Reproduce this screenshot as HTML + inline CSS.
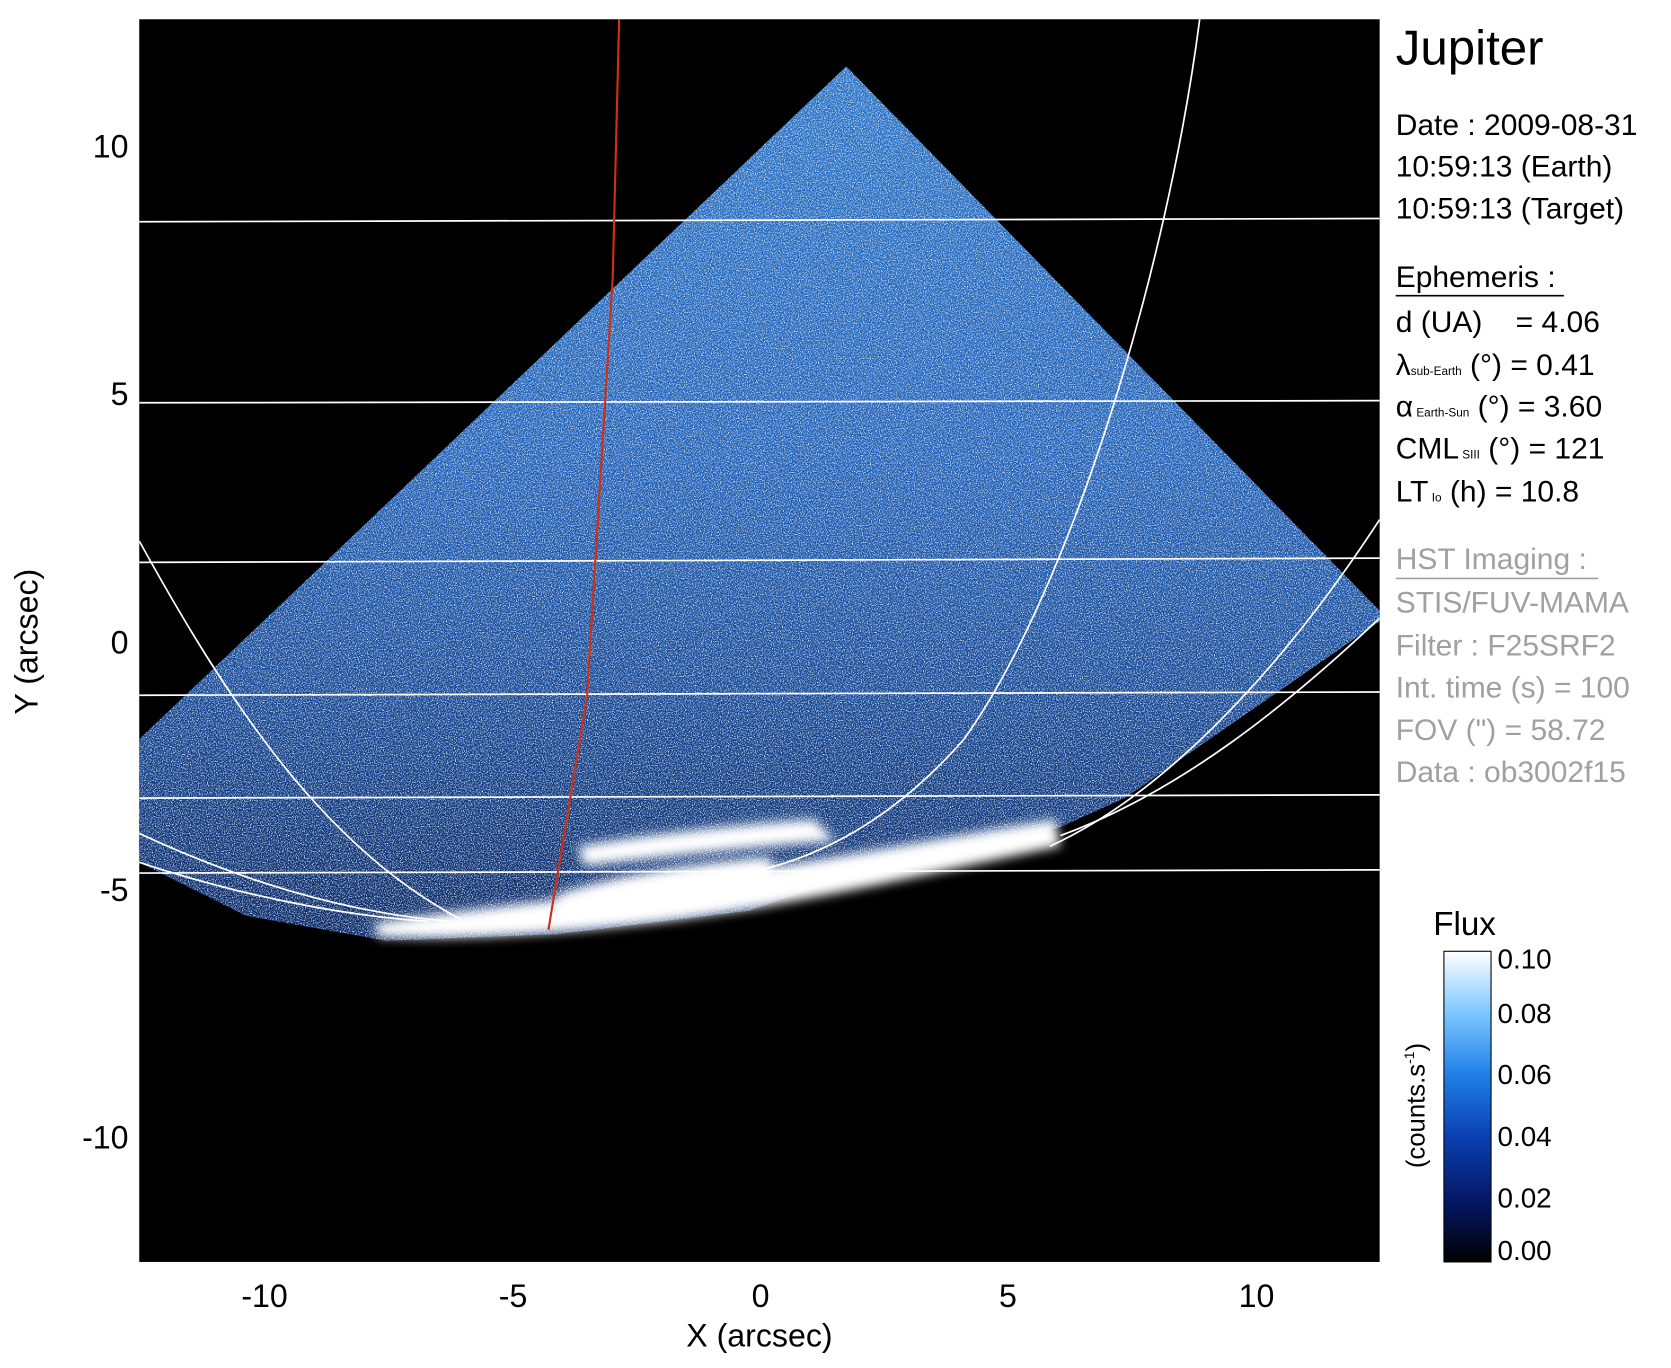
<!DOCTYPE html>
<html><head><meta charset="utf-8"><style>
html,body{margin:0;padding:0;background:#fff;}
svg{display:block;}
text{font-family:"Liberation Sans",sans-serif;}
</style></head><body>
<svg width="1671" height="1368" viewBox="0 0 1560 1277" preserveAspectRatio="none" xmlns="http://www.w3.org/2000/svg">
<defs>
<filter id="noise" x="0" y="0" width="100%" height="100%">
<feTurbulence type="fractalNoise" baseFrequency="0.95" numOctaves="2" seed="3" result="n"/>
<feColorMatrix in="n" type="matrix" values="0 0 0 0 0.8  0 0 0 0 0.9  0 0 0 0 1  0 0 0 3.5 -1.65" result="c"/>
<feComposite in="c" in2="SourceGraphic" operator="in"/>
</filter>
<filter id="noise2" x="0" y="0" width="100%" height="100%">
<feTurbulence type="fractalNoise" baseFrequency="0.9" numOctaves="2" seed="11" result="n"/>
<feColorMatrix in="n" type="matrix" values="0 0 0 0 0  0 0 0 0 0.05  0 0 0 0 0.2  0 0 0 -3.5 1.6" result="c"/>
<feComposite in="c" in2="SourceGraphic" operator="in"/>
</filter>
<linearGradient id="wg" x1="0" y1="0" x2="0" y2="1">
<stop offset="0" stop-color="#2f78cc"/>
<stop offset="0.45" stop-color="#2664bc"/>
<stop offset="0.72" stop-color="#184896"/>
<stop offset="1" stop-color="#0a2460"/>
</linearGradient>
<linearGradient id="cb" x1="0" y1="0" x2="0" y2="1">
<stop offset="0" stop-color="#ffffff"/>
<stop offset="0.2" stop-color="#7cc6ff"/>
<stop offset="0.4" stop-color="#1e7fe6"/>
<stop offset="0.6" stop-color="#0a3fb0"/>
<stop offset="0.8" stop-color="#041868"/>
<stop offset="1" stop-color="#000000"/>
</linearGradient>
<filter id="blur"><feGaussianBlur stdDeviation="5"/></filter>
<clipPath id="pc"><rect x="130" y="18" width="1158" height="1160"/></clipPath>
</defs>
<rect x="130" y="18" width="1158" height="1160" fill="#000"/>
<g clip-path="url(#pc)">
<path d="M790,62 L1288,570 L1288,580 L1050,745 L990,772 L800,815 L700,850 L520,872 L360,878 L230,855 L130,805 L130,690 Z" fill="url(#wg)"/>
<path d="M790,62 L1288,570 L1288,580 L1050,745 L990,772 L800,815 L700,850 L520,872 L360,878 L230,855 L130,805 L130,690 Z" fill="#fff" filter="url(#noise)"/>
<path d="M790,62 L1288,570 L1288,580 L1050,745 L990,772 L800,815 L700,850 L520,872 L360,878 L230,855 L130,805 L130,690 Z" fill="#fff" filter="url(#noise2)" opacity="0.7"/>
<g filter="url(#blur)" fill="#fff">
<path d="M350,862 C420,850 520,842 620,825 C760,805 880,782 985,765 L990,790 C880,812 760,842 620,860 C520,872 420,878 352,874 Z"/>
<path d="M540,790 C600,780 680,770 760,765 L780,785 C700,790 620,800 545,808 Z"/>
<path d="M520,835 C580,815 660,805 720,800 L720,845 C660,855 580,862 520,866 Z"/>
</g>
<g fill="none" stroke="#fff" stroke-width="1.6">
<path d="M130,207 L1288,204"/>
<path d="M130,376 L1288,374"/>
<path d="M130,525 L1288,521"/>
<path d="M130,649 L1288,646"/>
<path d="M130,745 L1288,742"/>
<path d="M130,815 L1288,812"/>
<path d="M130,505 C210,650 300,790 430,858"/>
<path d="M130,778 C220,820 320,852 420,860"/>
<path d="M130,805 C220,835 320,855 400,860"/>
<path d="M1120,18 C1090,250 1000,550 900,690 C830,770 760,800 710,812"/>
<path d="M1288,485 C1200,620 1090,740 980,790"/>
<path d="M1288,577 C1200,660 1100,740 990,780"/>
</g>
<path d="M578,18 L572,260 L548,650 L512,868" fill="none" stroke="#d03010" stroke-width="2"/>
</g>
<g font-size="30" fill="#000" text-anchor="middle">
<text x="247" y="1220">-10</text><text x="479" y="1220">-5</text><text x="710" y="1220">0</text><text x="941" y="1220">5</text><text x="1173" y="1220">10</text>
<text x="709" y="1257">X (arcsec)</text>
</g>
<g font-size="30" fill="#000" text-anchor="end">
<text x="120" y="147">10</text><text x="120" y="378">5</text><text x="120" y="610">0</text><text x="120" y="841">-5</text><text x="120" y="1072">-10</text>
</g>
<text x="45" y="599" font-size="30" text-anchor="middle" transform="rotate(-90 45 599)" dy="-10">Y (arcsec)</text>
<g font-size="28" fill="#000">
<text x="1303" y="60" font-size="46">Jupiter</text>
<text x="1303" y="126">Date : 2009-08-31</text>
<text x="1303" y="165">10:59:13 (Earth)</text>
<text x="1303" y="204">10:59:13 (Target)</text>
<text x="1303" y="268">Ephemeris :</text>
<line x1="1303" y1="276" x2="1460" y2="276" stroke="#000" stroke-width="1.5"/>
<text x="1303" y="310">d (UA)<tspan x="1415">= 4.06</tspan></text>
<text x="1303" y="350">λ<tspan font-size="11">sub-Earth</tspan> (°) = 0.41</text>
<text x="1303" y="389">α<tspan font-size="11"> Earth-Sun</tspan> (°) = 3.60</text>
<text x="1303" y="428">CML<tspan font-size="11"> SIII</tspan> (°) = 121</text>
<text x="1303" y="468">LT<tspan font-size="11"> Io</tspan> (h) = 10.8</text>
</g>
<g font-size="28" fill="#a0a0a0">
<text x="1303" y="531">HST Imaging :</text>
<line x1="1303" y1="540" x2="1492" y2="540" stroke="#a0a0a0" stroke-width="1.5"/>
<text x="1303" y="572">STIS/FUV-MAMA</text>
<text x="1303" y="612">Filter : F25SRF2</text>
<text x="1303" y="651">Int. time (s) = 100</text>
<text x="1303" y="691">FOV (") = 58.72</text>
<text x="1303" y="730">Data : ob3002f15</text>
</g>
<text x="1338" y="873" font-size="31">Flux</text>
<rect x="1348" y="888" width="44" height="290" fill="url(#cb)" stroke="#000" stroke-width="1"/>
<g font-size="26" fill="#000">
<text x="1398" y="904">0.10</text><text x="1398" y="955">0.08</text><text x="1398" y="1012">0.06</text><text x="1398" y="1070">0.04</text><text x="1398" y="1127">0.02</text><text x="1398" y="1176">0.00</text>
</g>
<text x="1330" y="1032" font-size="24" text-anchor="middle" transform="rotate(-90 1330 1032)">(counts.s<tspan font-size="13" dy="-10">-1</tspan><tspan dy="10">)</tspan></text>
</svg>
</body></html>
